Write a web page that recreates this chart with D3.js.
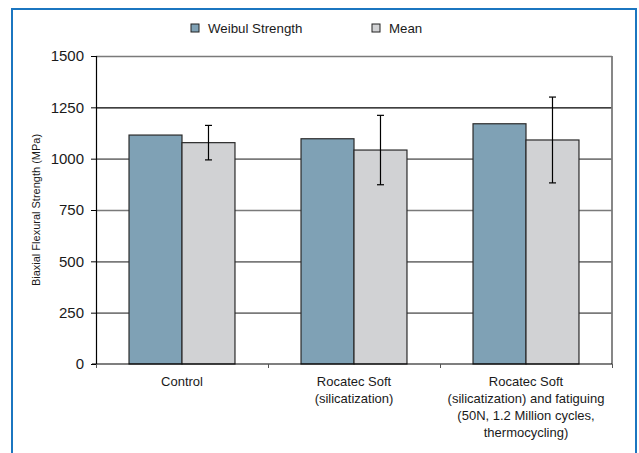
<!DOCTYPE html>
<html><head><meta charset="utf-8">
<script src="https://cdn.jsdelivr.net/npm/d3@7"></script>
<style>
html,body{margin:0;padding:0;background:#fff;}
svg{display:block;font-family:"Liberation Sans",Arial,Helvetica,sans-serif;}
</style></head>
<body>
<svg id="chart" width="639" height="453"></svg>
<script>
const categories = [
  ["Control"],
  ["Rocatec Soft", "(silicatization)"],
  ["Rocatec Soft", "(silicatization) and fatiguing", "(50N, 1.2 Million cycles,", "thermocycling)"]
];
const seriesNames = ["Weibul Strength", "Mean"];
const weibulValues = [1115, 1097, 1170];
const meanValues = [1078, 1042, 1091];
const meanErrors = [84, 169, 209];
const yTicks = [0, 250, 500, 750, 1000, 1250, 1500];
const colors = ["#7fa1b5", "#d1d2d4"];

const svg = d3.select("#chart");
const L = 96, R = 612, T = 56, B = 364;

// outer blue frame
svg.append("rect").attr("x", 12).attr("y", 9).attr("width", 624).attr("height", 470)
  .attr("fill", "none").attr("stroke", "#1b76c0").attr("stroke-width", 2);

const x0 = d3.scaleBand().domain(d3.range(categories.length)).range([L, R])
  .paddingInner(0.384).paddingOuter(0.192);
const x1 = d3.scaleBand().domain([0, 1]).range([0, x0.bandwidth()]);
const y = d3.scaleLinear().domain([0, 1500]).range([B, T]);

// gridlines
const grid = svg.append("g").attr("transform", `translate(${L},0)`)
  .call(d3.axisLeft(y).tickValues(yTicks.filter(d => d > 0)).tickSize(-(R - L)).tickFormat(""));
grid.select(".domain").remove();
grid.selectAll(".tick line")
  .attr("stroke", d => d === 1250 ? "#000" : "#7a7a7a")
  .attr("stroke-width", d => d === 1250 ? 1.2 : 1.6);

// right border
svg.append("line").attr("x1", R).attr("x2", R).attr("y1", T).attr("y2", B)
  .attr("stroke", "#7a7a7a").attr("stroke-width", 1.8);

// bars
const groups = svg.append("g").selectAll("g").data(categories).join("g")
  .attr("transform", (d, i) => `translate(${x0(i)},0)`);
groups.each(function(d, i) {
  const g = d3.select(this);
  const vals = [weibulValues[i], meanValues[i]];
  vals.forEach((v, j) => {
    g.append("rect").attr("x", x1(j)).attr("y", y(v))
      .attr("width", x1.bandwidth()).attr("height", y(0) - y(v))
      .attr("fill", colors[j]).attr("stroke", "#2a2a2a").attr("stroke-width", 1.2);
  });
  const cx = x1(1) + x1.bandwidth() / 2;
  const top = y(meanValues[i] + meanErrors[i]), bot = y(meanValues[i] - meanErrors[i]);
  g.append("line").attr("x1", cx).attr("x2", cx).attr("y1", top).attr("y2", bot)
    .attr("stroke", "#000").attr("stroke-width", 1.2);
  [top, bot].forEach(yy => g.append("line").attr("x1", cx - 3.5).attr("x2", cx + 3.5)
    .attr("y1", yy).attr("y2", yy).attr("stroke", "#000").attr("stroke-width", 1.2));
});

// y axis
const ya = svg.append("g").attr("transform", `translate(${L},0)`)
  .call(d3.axisLeft(y).tickValues(yTicks).tickSize(5).tickPadding(7).tickFormat(d3.format("d")));
ya.select(".domain").attr("stroke", "#000").attr("stroke-width", 1.2);
ya.selectAll(".tick line").attr("stroke", "#000");
ya.selectAll(".tick text").attr("font-size", 15).attr("fill", "#1a1a1a")
  .attr("font-family", "'Liberation Sans',Arial,sans-serif");

// x axis
const xb = d3.scaleLinear().domain([0, categories.length]).range([L, R]);
const xa = svg.append("g").attr("transform", `translate(0,${B})`)
  .call(d3.axisBottom(xb).tickValues(d3.range(categories.length + 1)).tickSize(4).tickFormat(""));
xa.select(".domain").attr("stroke", "#000").attr("stroke-width", 1.2).attr("d", `M${L - 4},0H${R}`);
xa.selectAll(".tick line").attr("stroke", "#555");

// category labels
svg.append("g").selectAll("text").data(categories).join("text")
  .attr("x", (d, i) => x0(i) + x0.bandwidth() / 2)
  .attr("y", 386)
  .attr("text-anchor", "middle").attr("font-size", 13).attr("fill", "#1a1a1a")
  .each(function(lines) {
    d3.select(this).selectAll("tspan").data(lines).join("tspan")
      .attr("x", d3.select(this).attr("x"))
      .attr("dy", (l, k) => k === 0 ? 0 : 17)
      .text(l => l);
  });

// y title
svg.append("text").attr("transform", "translate(40,210) rotate(-90)")
  .attr("text-anchor", "middle").attr("font-size", 11).attr("fill", "#1a1a1a")
  .text("Biaxial Flexural Strength (MPa)");

// legend
const legendX = [191, 372];
const lg = svg.append("g").selectAll("g").data(seriesNames).join("g")
  .attr("transform", (d, i) => `translate(${legendX[i]},24)`);
lg.append("rect").attr("width", 8).attr("height", 8)
  .attr("fill", (d, i) => colors[i]).attr("stroke", "#222").attr("stroke-width", 1);
lg.append("text").attr("x", 17).attr("y", 8.8).attr("font-size", 13.3).attr("fill", "#1a1a1a")
  .text(d => d);
</script>
</body></html>
